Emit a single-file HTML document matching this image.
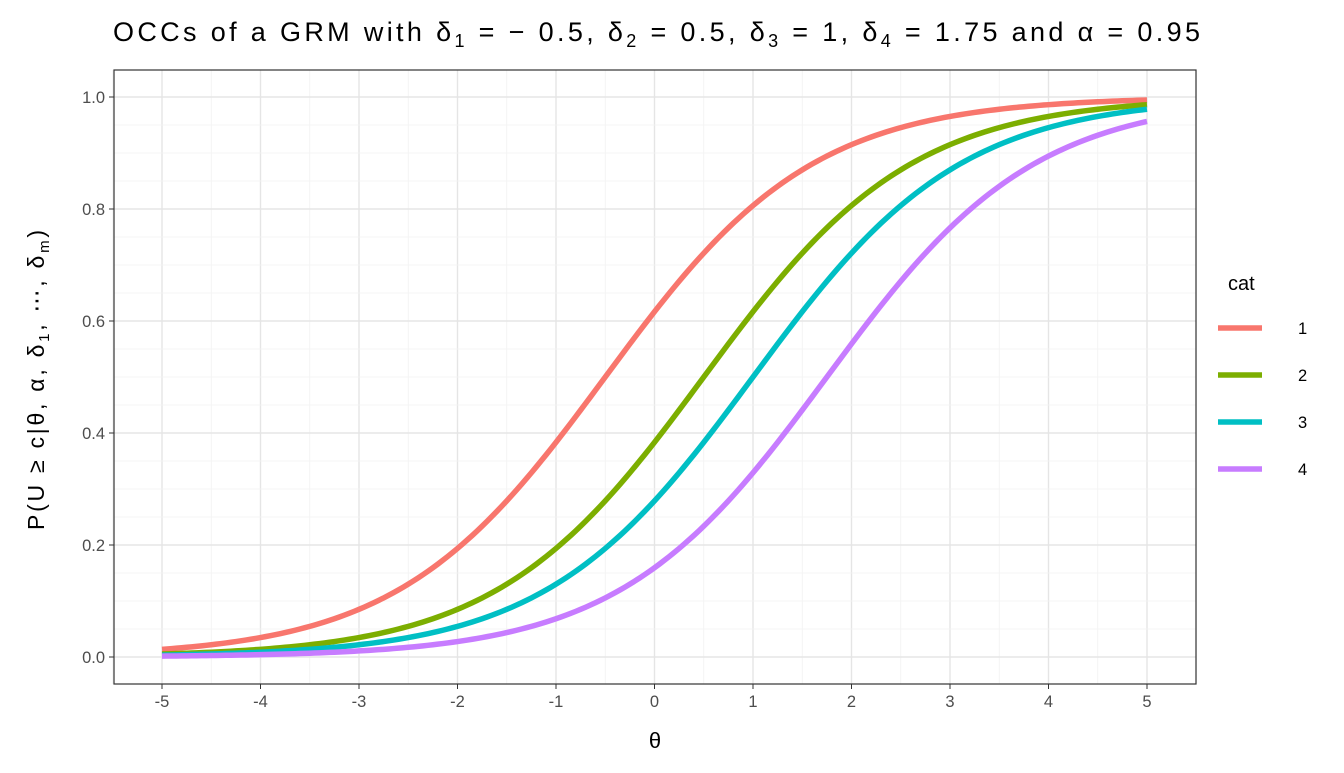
<!DOCTYPE html>
<html><head><meta charset="utf-8"><style>
body{margin:0;background:#fff;}
svg text{font-family:"Liberation Sans",sans-serif;}
</style></head><body>
<svg id="s" width="1344" height="768" xmlns="http://www.w3.org/2000/svg">
<rect width="1344" height="768" fill="#fff"/>
<g id="grid"></g>
<g id="curves"></g>
<rect x="114" y="70" width="1082" height="614" fill="none" stroke="#333" stroke-width="1.2"/>
<g id="ticks" font-size="16.5" fill="#4d4d4d"></g>
<text x="113" y="41" font-size="27" fill="#000" textLength="1087" lengthAdjust="spacing">OCCs of a GRM with δ<tspan font-size="18" dy="6">1</tspan><tspan dy="-6"> =  − 0.5, δ</tspan><tspan font-size="18" dy="6">2</tspan><tspan dy="-6"> = 0.5, δ</tspan><tspan font-size="18" dy="6">3</tspan><tspan dy="-6"> = 1, δ</tspan><tspan font-size="18" dy="6">4</tspan><tspan dy="-6"> = 1.75 and α = 0.95</tspan></text>
<text x="655" y="748" font-size="22" text-anchor="middle" font-family="Liberation Serif,serif">θ</text>
<text transform="translate(44,530) rotate(-90)" font-size="23" textLength="300" lengthAdjust="spacing">P(U ≥ c|θ, α, δ<tspan font-size="15" dy="5">1</tspan><tspan dy="-5">, ⋯, δ</tspan><tspan font-size="15" dy="5">m</tspan><tspan dy="-5">)</tspan></text>
<text x="1228" y="290" font-size="20">cat</text>
<g id="leg" font-size="16.5"></g>
</svg>
<script>
var NS="http://www.w3.org/2000/svg";
function el(p,t,a,txt){var e=document.createElementNS(NS,t);for(var k in a)e.setAttribute(k,a[k]);if(txt!==undefined)e.textContent=txt;document.getElementById(p).appendChild(e);}
function X(t){return 654.5+t*98.5;}
function Y(v){return 657-v*560;}
for(var t=-5.5;t<=5.5;t+=0.5){var maj=Math.abs(t-Math.round(t))<1e-6;el("grid","line",{x1:X(t),x2:X(t),y1:70,y2:684,stroke:maj?"#e5e5e5":"#f2f2f2","stroke-width":maj?1.4:0.8});}
for(var i=-1;i<=21;i++){var v=i*0.05;if(Y(v)<70||Y(v)>684)continue;if(i%2){el("grid","line",{x1:114,x2:1196,y1:Y(v),y2:Y(v),stroke:"#f2f2f2","stroke-width":0.8});}else{var m=(i%4==0);el("grid","line",{x1:114,x2:1196,y1:Y(v),y2:Y(v),stroke:m?"#e5e5e5":"#f2f2f2","stroke-width":m?1.4:0.8});}}
for(var t=-5;t<=5;t++){el("ticks","line",{x1:X(t),x2:X(t),y1:684,y2:689,stroke:"#333"});el("ticks","text",{x:X(t),y:707,"text-anchor":"middle"},String(t));}
for(var i=0;i<=5;i++){var v=i*0.2;el("ticks","line",{x1:109,x2:114,y1:Y(v),y2:Y(v),stroke:"#333"});el("ticks","text",{x:105,y:Y(v)+6,"text-anchor":"end"},v.toFixed(1));}
var d=[-0.5,0.5,1,1.75],c=["#F8766D","#7CAE00","#00BFC4","#C77CFF"];
for(var j=0;j<4;j++){var p="";for(var k=0;k<=200;k++){var t=-5+k*0.05;var v=1/(1+Math.exp(-0.95*(t-d[j])));p+=(k?"L":"M")+X(t).toFixed(2)+","+Y(v).toFixed(2);}
el("curves","path",{d:p,fill:"none",stroke:c[j],"stroke-width":5.5});
var ly=328+j*47;el("leg","line",{x1:1218,x2:1262,y1:ly,y2:ly,stroke:c[j],"stroke-width":5.5});el("leg","text",{x:1298,y:ly+6},String(j+1));}
</script>
</body></html>
